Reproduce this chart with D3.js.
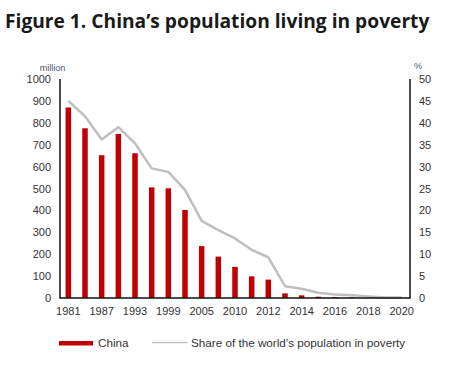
<!DOCTYPE html>
<html>
<head>
<meta charset="utf-8">
<script src="https://cdn.jsdelivr.net/npm/d3@7"></script>
<style>
  body { margin: 0; background: #fff; }
  svg { display: block; }
  .tick text { font-family: "Liberation Sans", Arial, sans-serif; font-size: 11px; fill: #333; }
</style>
</head>
<body>
<div id="chart"></div>
<script>
const years = ["1981","1984","1987","1990","1993","1996","1999","2002","2005","2008","2010","2011","2012","2013","2014","2015","2016","2017","2018","2019","2020"];
const chinaPoor = [870, 775, 652, 749, 661, 505, 501, 402, 237, 189, 142, 99, 84, 21, 12, 6, 4.5, 3, 1.7, 0.6, 0];
const worldShare = [45, 41.5, 36.2, 39, 35.3, 29.6, 28.8, 24.7, 17.6, 15.5, 13.6, 11, 9.3, 2.7, 2.1, 1.2, 0.8, 0.6, 0.35, 0.1, 0.1];
const xLabels = ["1981","1987","1993","1999","2005","2010","2012","2014","2016","2018","2020"];
const leftTicks = [0,100,200,300,400,500,600,700,800,900,1000];
const rightTicks = [0,5,10,15,20,25,30,35,40,45,50];

const width = 461;
const height = 369;
const plotLeft = 60, plotRight = 410, plotTop = 79, plotBottom = 298;

const svg = d3.select('#chart')
  .append('svg')
  .attr('width', width)
  .attr('height', height)

svg.append('text')
  .attr('x', 5)
  .attr('y', 28)
  .attr('font-family', '"Open Sans", sans-serif')
  .attr('font-weight', 'bold')
  .attr('font-size', 19.2)
  .attr('fill', '#1a1a1a')
  .text('Figure 1. China\u2019s population living in poverty')

const x = d3.scaleBand()
  .domain(years)
  .range([plotLeft, plotRight])

const y = d3.scaleLinear()
  .domain([0, 1000])
  .range([plotBottom, plotTop])

const y2 = d3.scaleLinear()
  .domain([0, 50])
  .range([plotBottom, plotTop])

// bars
svg.append('g')
  .selectAll('rect')
  .data(chinaPoor)
  .join('rect')
  .attr('x', (d, i) => x(years[i]) + x.bandwidth() / 2 - 2.75)
  .attr('width', 5.5)
  .attr('y', d => y(d))
  .attr('height', d => plotBottom - y(d))
  .attr('fill', '#c00000')

// share line
const line = d3.line()
  .x((d, i) => x(years[i]) + x.bandwidth() / 2)
  .y(d => y2(d))

svg.append('path')
  .datum(worldShare)
  .attr('d', line)
  .attr('fill', 'none')
  .attr('stroke', '#bfbfbf')
  .attr('stroke-width', 2.5)
  .attr('stroke-linejoin', 'round')

// axes
const xAxis = d3.axisBottom(x)
  .tickValues(xLabels)
  .tickSize(0)
  .tickPadding(9)

const yAxis = d3.axisLeft(y)
  .tickValues(leftTicks)
  .tickFormat(d3.format('d'))
  .tickSize(0)
  .tickPadding(9)

const yAxis2 = d3.axisRight(y2)
  .tickValues(rightTicks)
  .tickFormat(d3.format('d'))
  .tickSize(0)
  .tickPadding(9)

svg.append('g')
  .attr('transform', `translate(0, ${plotBottom})`)
  .call(xAxis)
  .call(g => g.select('.domain').remove())

svg.append('g')
  .attr('transform', `translate(${plotLeft}, 0)`)
  .call(yAxis)
  .call(g => g.select('.domain').remove())

svg.append('g')
  .attr('transform', `translate(${plotRight}, 0)`)
  .call(yAxis2)
  .call(g => g.select('.domain').remove())

svg.append('path')
  .attr('d', `M${plotLeft},${plotTop}V${plotBottom}H${plotRight}V${plotTop}`)
  .attr('fill', 'none')
  .attr('stroke', '#111')
  .attr('stroke-width', 1.5)

svg.append('text')
  .attr('x', 52.5).attr('y', 70.5)
  .attr('text-anchor', 'middle')
  .attr('font-family', '"Liberation Sans", Arial, sans-serif')
  .attr('font-size', 9)
  .attr('fill', '#44546a')
  .text('million')

svg.append('text')
  .attr('x', 418).attr('y', 69)
  .attr('text-anchor', 'middle')
  .attr('font-family', '"Liberation Sans", Arial, sans-serif')
  .attr('font-size', 9)
  .attr('fill', '#44546a')
  .text('%')

// legend
const legend = svg.append('g')
  .attr('font-family', '"Liberation Sans", Arial, sans-serif')
  .attr('font-size', 11.7)
  .attr('fill', '#333')

legend.append('rect')
  .attr('x', 59).attr('y', 341)
  .attr('width', 34).attr('height', 4.5)
  .attr('fill', '#c00000')

legend.append('text')
  .attr('x', 98).attr('y', 347)
  .text('China')

legend.append('line')
  .attr('x1', 152).attr('x2', 187)
  .attr('y1', 342.5).attr('y2', 342.5)
  .attr('stroke', '#bfbfbf')
  .attr('stroke-width', 1.5)

legend.append('text')
  .attr('x', 191).attr('y', 347)
  .text('Share of the world\u2019s population in poverty')
</script>
</body>
</html>
